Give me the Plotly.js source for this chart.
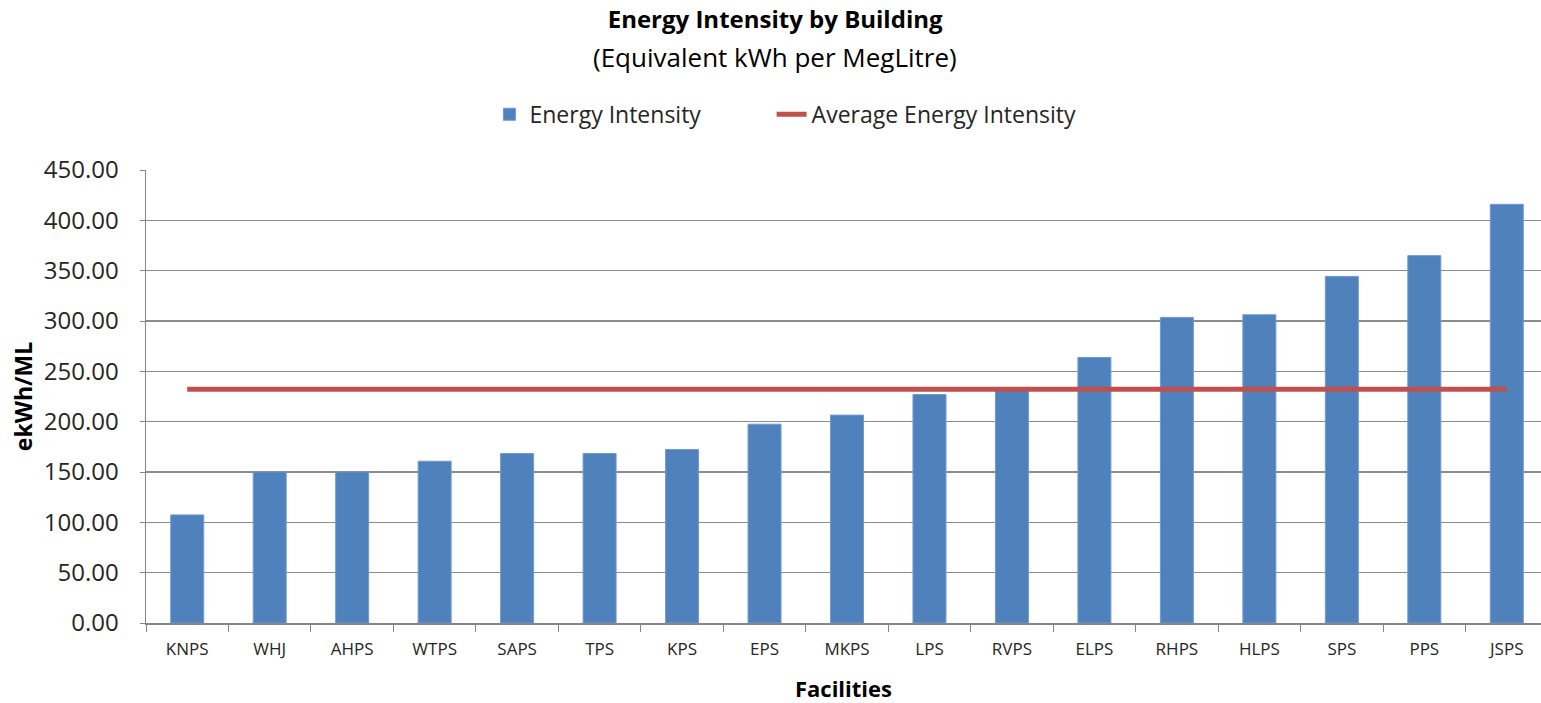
<!DOCTYPE html>
<html>
<head>
<meta charset="utf-8">
<script src="https://cdn.plot.ly/plotly-3.0.1.min.js"></script>
<style>html,body{margin:0;padding:0;background:#fff;}#chart{width:1541px;height:703px;}</style>
</head>
<body>
<div id="chart"></div>
<script>
const facilities = ["KNPS","WHJ","AHPS","WTPS","SAPS","TPS","KPS","EPS","MKPS","LPS","RVPS","ELPS","RHPS","HLPS","SPS","PPS","JSPS"];
const energyIntensity = [107.4,150.1,150.1,160.7,168.4,168.4,172.3,197.5,206.5,227.0,233.0,263.8,303.6,306.2,344.3,364.9,415.9];
const averageIntensity = [232.3,232.3,232.3,232.3,232.3,232.3,232.3,232.3,232.3,232.3,232.3,232.3,232.3,232.3,232.3,232.3,232.3];
const yTickValues = [0,50,100,150,200,250,300,350,400,450];
const yTickLabels = ["0.00","50.00","100.00","150.00","200.00","250.00","300.00","350.00","400.00","450.00"];

const FONT = "'Open Sans', Lato, sans-serif";
const PAD = "\u00A0".repeat(11);
const traces = [
  {type:"bar", name:"Energy Intensity" + PAD, x:facilities, y:energyIntensity,
   marker:{color:"#4F81BD", line:{color:"#6f9ad0", width:1}}},
  {type:"scatter", mode:"lines", name:"Average Energy Intensity", x:facilities, y:averageIntensity,
   line:{color:"#C0504D", width:5}}
];
const layout = {
  width:1541, height:703,
  paper_bgcolor:"#fff", plot_bgcolor:"#fff",
  margin:{l:146, r:0, t:170, b:80},
  font:{family:FONT, color:"#262626"},
  title:{text:"<b>Energy Intensity by Building</b>",
         x:0.503, xanchor:"center", yref:"container", y:0.9716, yanchor:"middle",
         font:{size:24, family:FONT, color:"#000"}},
  annotations:[
    {text:"(Equivalent kWh per MegLitre)", xref:"paper", yref:"paper", x:0.4509, y:1.2495,
     xanchor:"center", yanchor:"middle", showarrow:false, font:{size:26, family:FONT, color:"#000"}}
  ],
  showlegend:true,
  legend:{orientation:"h", x:0.2462, xanchor:"left", yref:"paper", y:1.123, yanchor:"middle",
          font:{size:23, family:FONT, color:"#262626"}, traceorder:"normal"},
  bargap:0.6,
  xaxis:{type:"category", range:[-0.5,16.415], showgrid:false, showline:true, linecolor:"#868686", linewidth:1.5,
         ticks:"outside", tickson:"boundaries", ticklen:7, tickcolor:"#868686",
         tickfont:{size:17, family:FONT, color:"#262626"}, ticklabelstandoff:10,
         title:{text:"<b>Facilities</b>", font:{size:22, family:FONT, color:"#000"}, standoff:22}},
  yaxis:{range:[0,450], tickvals:yTickValues, ticktext:yTickLabels, showgrid:true, gridcolor:"#8c8c8c", gridwidth:1.5,
         showline:true, linecolor:"#868686", linewidth:1.5, ticks:"outside", ticklen:5, tickcolor:"#868686",
         tickfont:{size:24, family:FONT, color:"#262626"}, ticklabelstandoff:16, zeroline:false,
         title:{text:"<b>ekWh/ML</b>", font:{size:23, family:FONT, color:"#000"}, standoff:4}}
};
Plotly.newPlot("chart", traces, layout, {displayModeBar:false, staticPlot:true});
</script>
</body>
</html>
